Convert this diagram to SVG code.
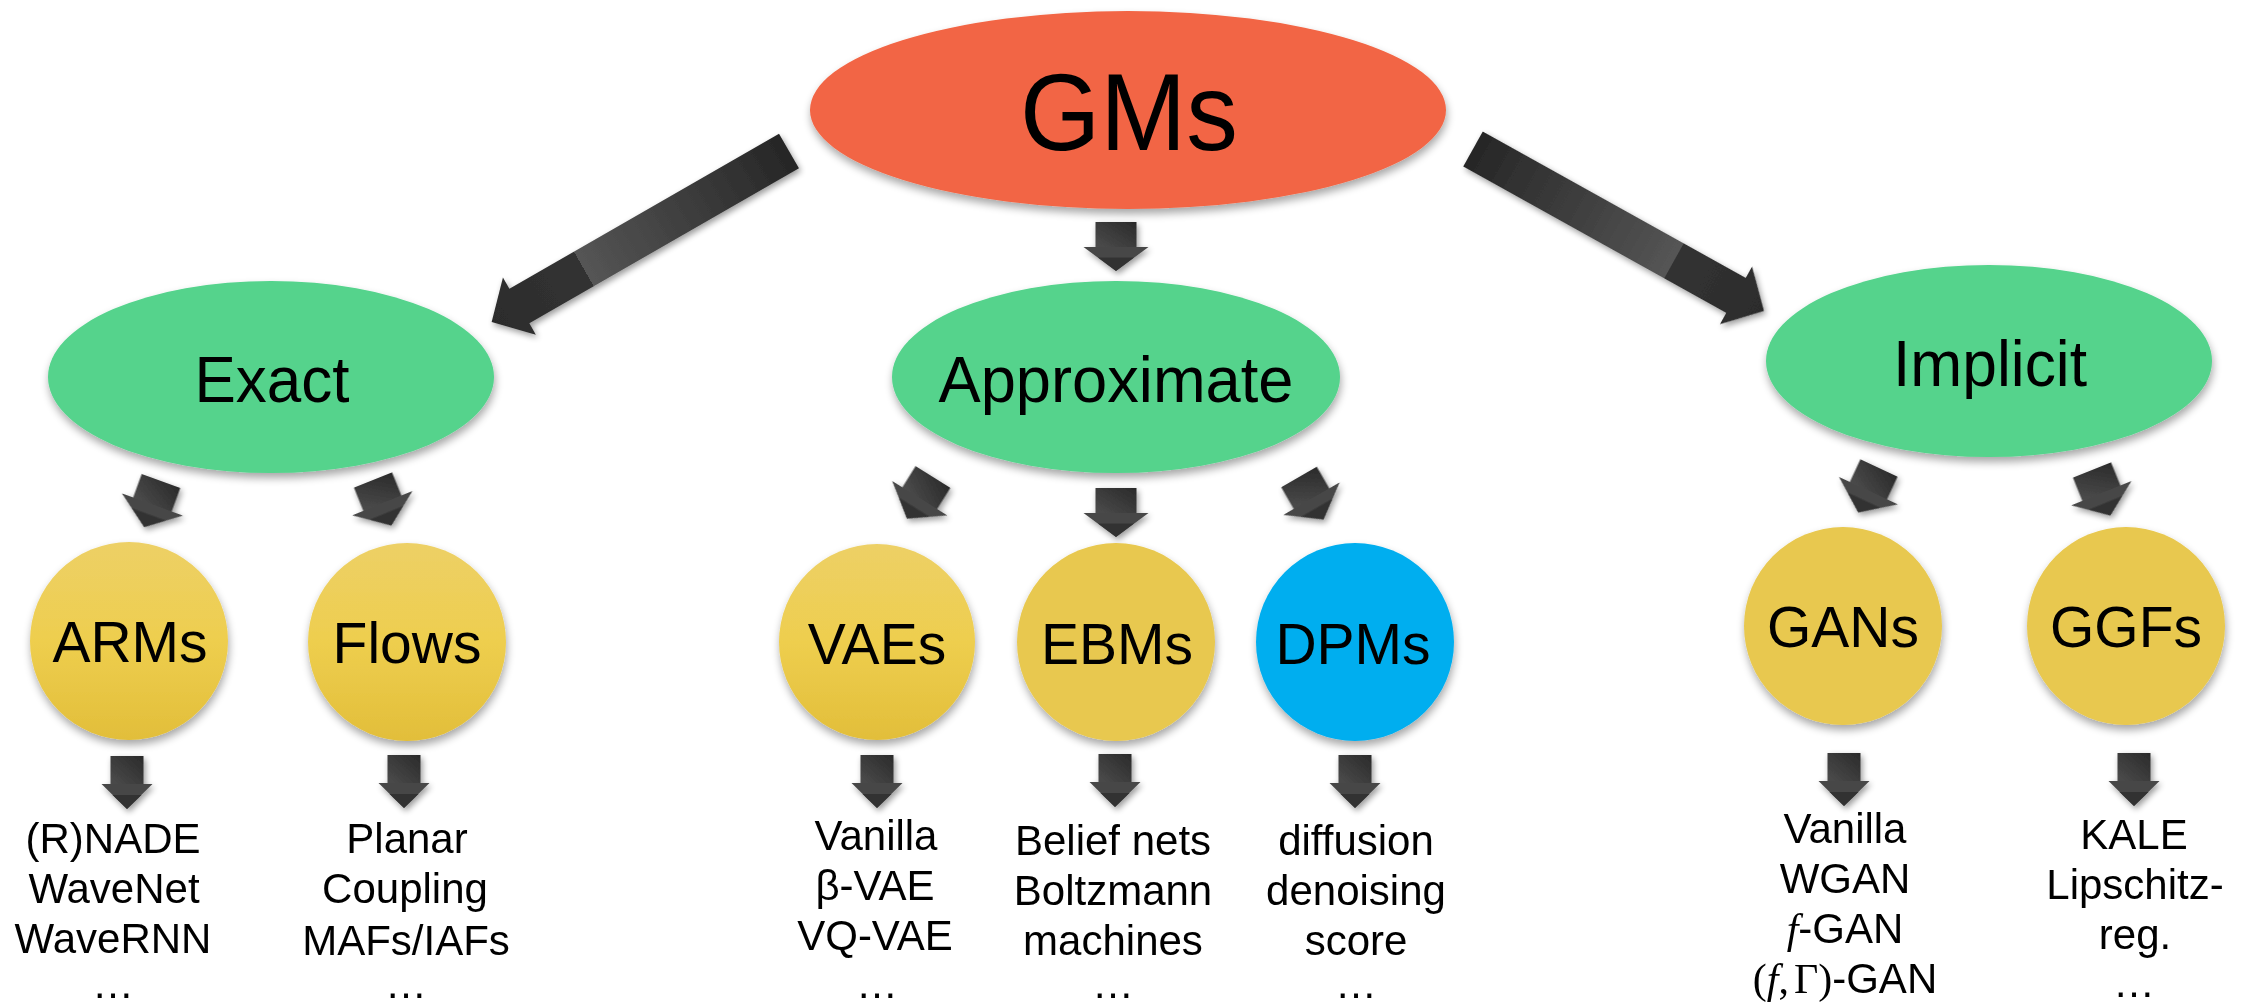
<svg xmlns="http://www.w3.org/2000/svg" width="2247" height="1008" viewBox="0 0 2247 1008">
<style>
  text { font-family: "Liberation Sans", Arial, Helvetica, sans-serif; fill: #000; text-anchor: middle; }
  .t1 { font-size: 109px; }
  .t2 { font-size: 65px; }
  .t3 { font-size: 57px; }
  .leaf { font-size: 42px; }
  .math { font-family: "Liberation Serif", "Times New Roman", serif; }
  .it { font-style: italic; }
  .gm { fill: #F26544; }
  .green { fill: #54D38C; }
  .blue { fill: #00AEEF; }
  .yel { fill: #E8C84F; }
</style>
<defs>
  <filter id="sh" x="-20%" y="-20%" width="140%" height="150%">
    <feGaussianBlur in="SourceAlpha" stdDeviation="4"/>
    <feOffset dx="1" dy="5" result="b"/>
    <feComponentTransfer><feFuncA type="linear" slope="0.35"/></feComponentTransfer>
    <feMerge><feMergeNode/><feMergeNode in="SourceGraphic"/></feMerge>
  </filter>
  <filter id="ash" x="-30%" y="-30%" width="160%" height="160%">
    <feGaussianBlur in="SourceAlpha" stdDeviation="3"/>
    <feOffset dx="2" dy="3" result="b"/>
    <feComponentTransfer><feFuncA type="linear" slope="0.4"/></feComponentTransfer>
    <feMerge><feMergeNode/><feMergeNode in="SourceGraphic"/></feMerge>
  </filter>
  <linearGradient id="gy" x1="0" y1="0" x2="0" y2="1">
    <stop offset="0" stop-color="#EDD066"/>
    <stop offset="0.5" stop-color="#EECE4E"/>
    <stop offset="1" stop-color="#E2BE3A"/>
  </linearGradient>
  <linearGradient id="gbig" x1="0" y1="0" x2="1" y2="0">
    <stop offset="0" stop-color="#262626"/>
    <stop offset="0.69" stop-color="#555555"/>
    <stop offset="0.69" stop-color="#323232"/>
    <stop offset="1" stop-color="#2c2c2c"/>
  </linearGradient>
  <linearGradient id="gbody" x1="1" y1="0" x2="0" y2="1">
    <stop offset="0" stop-color="#2a2a2a"/>
    <stop offset="1" stop-color="#4c4c4c"/>
  </linearGradient>
  <g id="arrM">
    <rect x="-20.5" y="0" width="41" height="25" fill="url(#gbody)"/>
    <polygon points="-32.5,25 32.5,25 0,49" fill="#474747"/>
    <polygon points="-18,35.5 18,35.5 0,49" fill="#333333"/>
  </g>
  <g id="arrS">
    <rect x="-16.5" y="0" width="33" height="28" fill="url(#gbody)"/>
    <polygon points="-25.5,28 25.5,28 0,53" fill="#474747"/>
    <polygon points="-14.5,39 14.5,39 0,53" fill="#333333"/>
  </g>
</defs>
<rect width="2247" height="1008" fill="#ffffff"/>

<g id="connectors">
  <g filter="url(#ash)">
    <path transform="translate(789,151) rotate(150.1)" d="M0,-20 L311,-20 L311,-33 L343,0 L311,33 L311,20 L0,20 Z" fill="url(#gbig)"/>
    <path transform="translate(1473,149) rotate(29.1)" d="M0,-20 L301,-20 L301,-33 L333,0 L301,33 L301,20 L0,20 Z" fill="url(#gbig)"/>
  </g>
  <g filter="url(#ash)">
    <use href="#arrM" transform="translate(1116,222)"/>
    <use href="#arrM" transform="translate(161,481) rotate(20)"/>
    <use href="#arrM" transform="translate(373,480) rotate(-22)"/>
    <use href="#arrM" transform="translate(933,477) rotate(32)"/>
    <use href="#arrM" transform="translate(1116,488)"/>
    <use href="#arrM" transform="translate(1299,477) rotate(-30)"/>
    <use href="#arrM" transform="translate(1879,468) rotate(25)"/>
    <use href="#arrM" transform="translate(2092,470) rotate(-22)"/>
    <use href="#arrS" transform="translate(127,756)"/>
    <use href="#arrS" transform="translate(404,755)"/>
    <use href="#arrS" transform="translate(877,755)"/>
    <use href="#arrS" transform="translate(1115,754)"/>
    <use href="#arrS" transform="translate(1355,755)"/>
    <use href="#arrS" transform="translate(1844,753)"/>
    <use href="#arrS" transform="translate(2134,753)"/>
  </g>
</g>

<g id="node-gms">
  <ellipse class="gm" cx="1128" cy="110" rx="318" ry="99" filter="url(#sh)"/>
  <text class="t1" x="1129" y="150" textLength="218" lengthAdjust="spacingAndGlyphs">GMs</text>
</g>
<g id="node-exact">
  <ellipse class="green" cx="271" cy="377" rx="223" ry="96" filter="url(#sh)"/>
  <text class="t2" x="272" y="402" textLength="155" lengthAdjust="spacingAndGlyphs">Exact</text>
</g>
<g id="node-approximate">
  <ellipse class="green" cx="1116" cy="377" rx="224" ry="96" filter="url(#sh)"/>
  <text class="t2" x="1116" y="402" textLength="355" lengthAdjust="spacingAndGlyphs">Approximate</text>
</g>
<g id="node-implicit">
  <ellipse class="green" cx="1989" cy="361" rx="223" ry="96" filter="url(#sh)"/>
  <text class="t2" x="1990" y="386" textLength="194" lengthAdjust="spacingAndGlyphs">Implicit</text>
</g>

<g id="node-arms">
  <circle cx="129" cy="641" r="99" fill="url(#gy)" filter="url(#sh)"/>
  <text class="t3" x="130" y="662">ARMs</text>
</g>
<g id="node-flows">
  <circle cx="407" cy="642" r="99" fill="url(#gy)" filter="url(#sh)"/>
  <text class="t3" x="407" y="663">Flows</text>
</g>
<g id="node-vaes">
  <circle cx="877" cy="642" r="98" fill="url(#gy)" filter="url(#sh)"/>
  <text class="t3" x="877" y="664">VAEs</text>
</g>
<g id="node-ebms">
  <circle class="yel" cx="1116" cy="642" r="99" filter="url(#sh)"/>
  <text class="t3" x="1117" y="664">EBMs</text>
</g>
<g id="node-dpms">
  <circle class="blue" cx="1355" cy="642" r="99" filter="url(#sh)"/>
  <text class="t3" x="1353" y="664">DPMs</text>
</g>
<g id="node-gans">
  <circle class="yel" cx="1843" cy="626" r="99" filter="url(#sh)"/>
  <text class="t3" x="1843" y="647">GANs</text>
</g>
<g id="node-ggfs">
  <circle class="yel" cx="2126" cy="626" r="99" filter="url(#sh)"/>
  <text class="t3" x="2126" y="647">GGFs</text>
</g>

<g id="leaf-arms">
  <text class="leaf" x="113" y="853">(R)NADE</text>
  <text class="leaf" x="114" y="903">WaveNet</text>
  <text class="leaf" x="113" y="953">WaveRNN</text>
  <text class="leaf" x="113" y="998">…</text>
</g>
<g id="leaf-flows">
  <text class="leaf" x="407" y="853">Planar</text>
  <text class="leaf" x="405" y="903">Coupling</text>
  <text class="leaf" x="406" y="955">MAFs/IAFs</text>
  <text class="leaf" x="406" y="998">…</text>
</g>
<g id="leaf-vaes">
  <text class="leaf" x="876" y="850">Vanilla</text>
  <text class="leaf" x="875" y="900">β-VAE</text>
  <text class="leaf" x="875" y="950">VQ-VAE</text>
  <text class="leaf" x="877" y="998">…</text>
</g>
<g id="leaf-ebms">
  <text class="leaf" x="1113" y="855">Belief nets</text>
  <text class="leaf" x="1113" y="905">Boltzmann</text>
  <text class="leaf" x="1113" y="955">machines</text>
  <text class="leaf" x="1113" y="998">…</text>
</g>
<g id="leaf-dpms">
  <text class="leaf" x="1356" y="855">diffusion</text>
  <text class="leaf" x="1356" y="905">denoising</text>
  <text class="leaf" x="1356" y="955">score</text>
  <text class="leaf" x="1356" y="998">…</text>
</g>
<g id="leaf-gans">
  <text class="leaf" x="1845" y="843">Vanilla</text>
  <text class="leaf" x="1845" y="893">WGAN</text>
  <text class="leaf" x="1845" y="943"><tspan class="math it">f</tspan>-GAN</text>
  <text class="leaf" x="1845" y="993"><tspan class="math">(</tspan><tspan class="math it">f</tspan><tspan class="math">,</tspan><tspan class="math" dx="5">Γ)</tspan>-GAN</text>
</g>
<g id="leaf-ggfs">
  <text class="leaf" x="2134" y="849">KALE</text>
  <text class="leaf" x="2135" y="899">Lipschitz-</text>
  <text class="leaf" x="2135" y="949">reg.</text>
  <text class="leaf" x="2134" y="997">…</text>
</g>
</svg>
